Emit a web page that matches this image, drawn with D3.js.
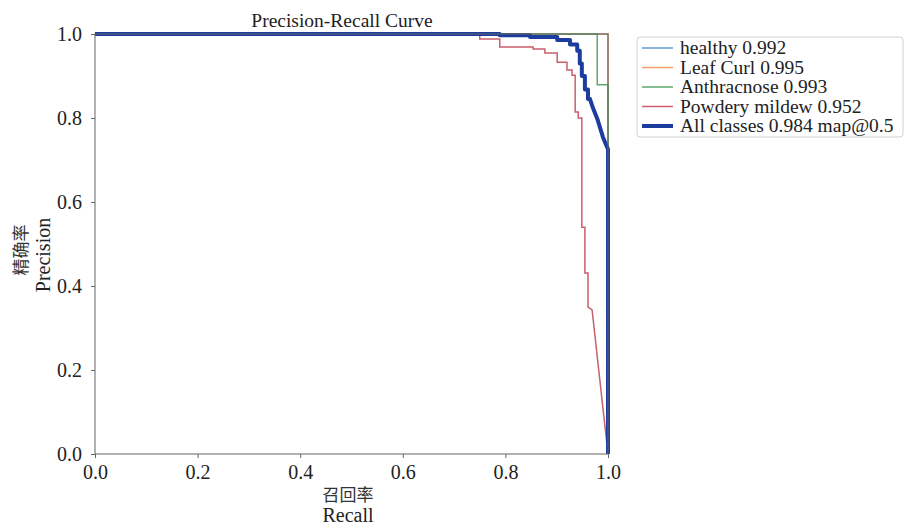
<!DOCTYPE html>
<html><head><meta charset="utf-8">
<script src="https://cdn.jsdelivr.net/npm/d3@7"></script>
<style>body{margin:0;background:#fff}svg{display:block}</style>
</head><body><svg id="c" width="904" height="527"></svg>
<script>
// ---- data ----
const classNames = ["healthy", "Leaf Curl", "Anthracnose", "Powdery mildew"];
const classAP = [0.992, 0.995, 0.993, 0.952];
const mapAll = 0.984;
const xTicks = [0.0, 0.2, 0.4, 0.6, 0.8, 1.0];
const yTicks = [0.0, 0.2, 0.4, 0.6, 0.8, 1.0];

const healthyRecall = [0, 1.0, 1.0];
const healthyPrecision = [1, 1, 0];
const leafCurlRecall = [0, 1.0, 1.0];
const leafCurlPrecision = [1, 1, 0];
const anthracnoseRecall = [0, 0.979, 0.979, 1.0, 1.0];
const anthracnosePrecision = [1, 1, 0.879, 0.879, 0];
const powderyRecall = [0, 0.750, 0.750, 0.789, 0.789, 0.854, 0.854, 0.877, 0.877, 0.901, 0.901, 0.920, 0.920, 0.930, 0.930, 0.936, 0.936, 0.942, 0.942, 0.949, 0.949, 0.955, 0.955, 0.961, 0.961, 0.969, 1.0];
const powderyPrecision = [1, 1, 0.988, 0.988, 0.969, 0.969, 0.964, 0.964, 0.955, 0.955, 0.933, 0.933, 0.914, 0.914, 0.902, 0.902, 0.814, 0.814, 0.800, 0.800, 0.540, 0.540, 0.431, 0.431, 0.350, 0.343, 0.0];
const allRecall = [0, 0.789, 0.789, 0.848, 0.848, 0.901, 0.901, 0.926, 0.926, 0.940, 0.940, 0.945, 0.945, 0.949, 0.949, 0.955, 0.955, 0.961, 0.961, 0.965, 0.970, 0.980, 0.990, 0.998, 1.0, 1.0];
const allPrecision = [1.0, 1.0, 0.997, 0.997, 0.993, 0.993, 0.986, 0.986, 0.975, 0.975, 0.960, 0.960, 0.930, 0.930, 0.900, 0.900, 0.868, 0.868, 0.845, 0.845, 0.826, 0.795, 0.755, 0.731, 0.726, 0.0];

// ---- drawing ----
const colors = ["#5f9bd0", "#f3a06c", "#5fa96c", "#c95f6d"];
const allColor = "#1c3c9f";
const font = "'Liberation Serif','Times New Roman',serif";
const svg = d3.select("#c");
const x = d3.scaleLinear().domain([0, 1]).range([95, 608]);
const y = d3.scaleLinear().domain([0, 1]).range([454, 34]);

const zip = (r, p) => r.map((v, i) => [v, p[i]]);
const series = [
  zip(healthyRecall, healthyPrecision),
  zip(leafCurlRecall, leafCurlPrecision),
  zip(anthracnoseRecall, anthracnosePrecision),
  zip(powderyRecall, powderyPrecision)
];
const line = d3.line().x(d => x(d[0])).y(d => y(d[1]));

series.forEach((s, i) => {
  svg.append("path").attr("d", line(s)).attr("fill", "none")
    .attr("stroke", colors[i]).attr("stroke-width", 1.5);
});
svg.append("path").attr("d", line(zip(allRecall, allPrecision))).attr("fill", "none")
  .attr("stroke", allColor).attr("stroke-width", 4).attr("stroke-linejoin", "round");

// frame
svg.append("rect").attr("x", x(0)).attr("y", y(1)).attr("width", x(1) - x(0)).attr("height", y(0) - y(1))
  .attr("fill", "none").attr("stroke", "#666").attr("stroke-width", 1);

// axes
const xAxis = svg.append("g").attr("transform", `translate(0,${y(0)})`)
  .call(d3.axisBottom(x).tickValues(xTicks).tickFormat(d3.format(".1f")).tickSize(4).tickPadding(7));
const yAxis = svg.append("g").attr("transform", `translate(${x(0)},0)`)
  .call(d3.axisLeft(y).tickValues(yTicks).tickFormat(d3.format(".1f")).tickSize(4).tickPadding(9));
[xAxis, yAxis].forEach(a => {
  a.select(".domain").remove();
  a.selectAll(".tick line").attr("stroke", "#666");
  a.selectAll("text").attr("font-family", font).attr("font-size", 20).attr("fill", "#222");
});

// title & labels
svg.append("text").attr("x", 342).attr("y", 27).attr("text-anchor", "middle")
  .attr("font-family", font).attr("font-size", 19.5).attr("fill", "#222").text("Precision-Recall Curve");
svg.append("text").attr("x", 348).attr("y", 501).attr("text-anchor", "middle")
  .attr("font-family", "'Noto Sans CJK SC',sans-serif").attr("font-size", 17).attr("fill", "#333").text("召回率");
svg.append("text").attr("x", 348).attr("y", 522).attr("text-anchor", "middle")
  .attr("font-family", font).attr("font-size", 20).attr("fill", "#222").text("Recall");
svg.append("text").attr("transform", "translate(27,250) rotate(-90)").attr("text-anchor", "middle")
  .attr("font-family", "'Noto Sans CJK SC',sans-serif").attr("font-size", 17).attr("fill", "#333").text("精确率");
svg.append("text").attr("transform", "translate(50,255) rotate(-90)").attr("text-anchor", "middle")
  .attr("font-family", font).attr("font-size", 20).attr("fill", "#222").text("Precision");

// legend
const lg = svg.append("g");
lg.append("rect").attr("x", 637).attr("y", 37).attr("width", 266).attr("height", 100).attr("rx", 3)
  .attr("fill", "#fff").attr("stroke", "#d0d0d0");
const labels = classNames.map((n, i) => `${n} ${classAP[i].toFixed(3)}`).concat([`All classes ${mapAll.toFixed(3)} map@0.5`]);
const lcolors = colors.concat([allColor]);
labels.forEach((t, i) => {
  const cy = 48 + i * 19.5;
  lg.append("line").attr("x1", 642).attr("x2", 673).attr("y1", cy).attr("y2", cy)
    .attr("stroke", lcolors[i]).attr("stroke-width", i === 4 ? 4 : 1.5);
  lg.append("text").attr("x", 680).attr("y", cy + 6).attr("font-family", font).attr("font-size", 19.5)
    .attr("fill", "#222").text(t);
});
</script></body></html>
